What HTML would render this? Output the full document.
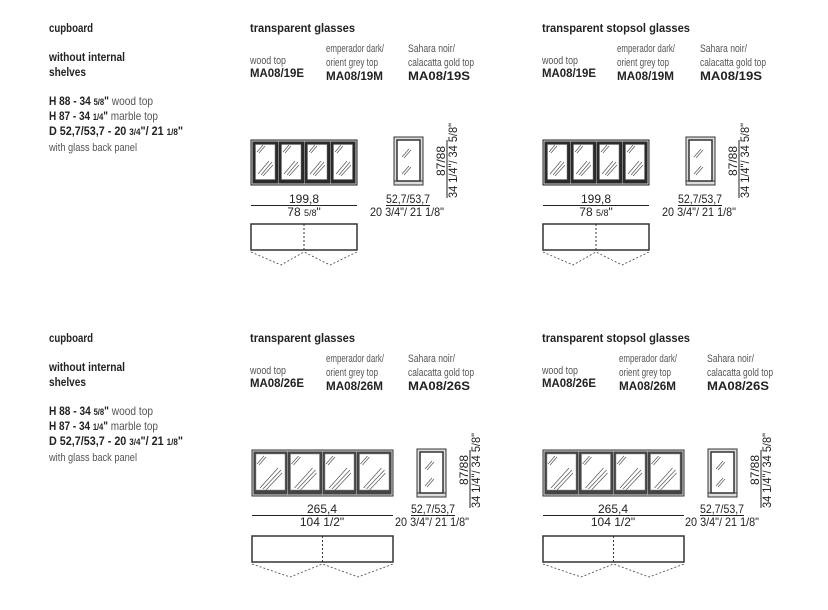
<!DOCTYPE html>
<html><head><meta charset="utf-8"><style>
html,body{margin:0;padding:0;background:#fff;}
svg{display:block}
text{font-family:"Liberation Sans Narrow","Liberation Sans",sans-serif;fill:#222}
.b{font-weight:bold;font-size:12px}
.r{font-size:11px;fill:#555}
.d{font-size:12px;fill:#222;font-family:"Liberation Sans",sans-serif}
</style></head><body>
<svg width="828" height="610" viewBox="0 0 828 610" xmlns="http://www.w3.org/2000/svg">
<defs>
<g id="hatchS">
 <path d="M4 12 L10 5 M6 13 L12 6 M5 34 L16 21 M8 35 L19 22 M10 36 L20 25" stroke="#555" stroke-width="0.7" fill="none"/>
</g>
<path id="h2" d="M5 14 L12 6 M7 15 L14 7 M8 38 L26 18 M11 39 L29 20 M14 40 L30 23" stroke="#555" stroke-width="0.7" fill="none"/>
<g id="f1">
 <rect x="0" y="0" width="106" height="45" fill="#cfcfcf" stroke="#222" stroke-width="1"/>
 <g fill="#2a2a2a">
  <rect x="1.5" y="1.5" width="25.5" height="42"/><rect x="27.5" y="1.5" width="25.5" height="42"/>
  <rect x="53.5" y="1.5" width="25.5" height="42"/><rect x="79.5" y="1.5" width="25" height="42"/>
 </g>
 <g fill="#fff" stroke="#777" stroke-width="0.5">
  <rect x="4.5" y="4.5" width="19.5" height="35"/><rect x="30.5" y="4.5" width="19.5" height="35"/>
  <rect x="56.5" y="4.5" width="19.5" height="35"/><rect x="82.5" y="4.5" width="19" height="35"/>
 </g>
 <use href="#hatchS" x="2"/><use href="#hatchS" x="28"/><use href="#hatchS" x="54"/><use href="#hatchS" x="80"/>
</g>
<g id="f2">
 <rect x="0" y="0" width="141" height="46" fill="#d5d5d5" stroke="#333" stroke-width="1"/>
 <g fill="#444">
  <rect x="1.5" y="1.5" width="34" height="43"/><rect x="36" y="1.5" width="34" height="43"/>
  <rect x="70.5" y="1.5" width="34" height="43"/><rect x="105" y="1.5" width="34.5" height="43"/>
 </g>
 <g fill="#fff" stroke="#888" stroke-width="0.5">
  <rect x="4" y="4" width="29" height="36"/><rect x="38.5" y="4" width="29" height="36"/>
  <rect x="73" y="4" width="29" height="36"/><rect x="107.5" y="4" width="29.5" height="36"/>
 </g>
 <use href="#h2" x="0"/><use href="#h2" x="34.5"/><use href="#h2" x="69"/><use href="#h2" x="103.5"/>
</g>
<g id="side">
 <rect x="0" y="0" width="29" height="48" fill="#ddd" stroke="#333" stroke-width="1"/>
 <rect x="3" y="3" width="23" height="41" fill="#fff" stroke="#333" stroke-width="1.5"/>
 <path d="M8 20 L15 12 M10 21 L17 13 M8 37 L15 29 M10 38 L17 30" stroke="#555" stroke-width="0.7"/>
 <path d="M0 44 L29 44" stroke="#333" stroke-width="1"/>
</g>
<g id="p1">
 <rect x="0" y="0" width="106" height="26" fill="#fff" stroke="#333" stroke-width="1.5"/>
 <path d="M53 0 L53 28" stroke="#333" stroke-width="1" stroke-dasharray="2,2"/>
 <path d="M0 28 L30 41 L53 28 L79 41 L106 28" stroke="#444" stroke-width="0.8" stroke-dasharray="2,2" fill="none"/>
</g>
<g id="p2">
 <rect x="0" y="0" width="141" height="26" fill="#fff" stroke="#333" stroke-width="1.5"/>
 <path d="M70.5 0 L70.5 28" stroke="#333" stroke-width="1" stroke-dasharray="2,2"/>
 <path d="M0 28 L38 41 L70.5 28 L106 41 L141 28" stroke="#444" stroke-width="0.8" stroke-dasharray="2,2" fill="none"/>
</g>
<g id="left">
<text class="b" x="49" y="32" textLength="44" lengthAdjust="spacingAndGlyphs">cupboard</text>
<text class="b" x="49" y="61" textLength="76" lengthAdjust="spacingAndGlyphs">without internal</text>
<text class="b" x="49" y="76" textLength="37" lengthAdjust="spacingAndGlyphs">shelves</text>
<text class="b" x="49" y="105" textLength="104" lengthAdjust="spacingAndGlyphs">H 88 - 34 <tspan font-size="9">5/8</tspan>" <tspan font-weight="normal" fill="#555">wood top</tspan></text>
<text class="b" x="49" y="120" textLength="109" lengthAdjust="spacingAndGlyphs">H 87 - 34 <tspan font-size="9">1/4</tspan>" <tspan font-weight="normal" fill="#555">marble top</tspan></text>
<text class="b" x="49" y="135" textLength="134" lengthAdjust="spacingAndGlyphs">D 52,7/53,7 - 20 <tspan font-size="9">3/4</tspan>"/ 21 <tspan font-size="9">1/8</tspan>"</text>
<text class="r" x="49" y="151" textLength="88" lengthAdjust="spacingAndGlyphs">with glass back panel</text>
</g>
</defs>

<use href="#left"/>
<use href="#left" y="310"/>

<!-- headers -->
<g>
<text class="b" x="250" y="32" textLength="105" lengthAdjust="spacingAndGlyphs">transparent glasses</text>
<text class="r" x="250" y="64" textLength="36" lengthAdjust="spacingAndGlyphs">wood top</text><text class="b" x="250" y="77" textLength="54" lengthAdjust="spacingAndGlyphs">MA08/19E</text>
<text class="r" x="326" y="52" textLength="58" lengthAdjust="spacingAndGlyphs">emperador dark/</text><text class="r" x="326" y="66" textLength="52" lengthAdjust="spacingAndGlyphs">orient grey top</text><text class="b" x="326" y="80" textLength="57" lengthAdjust="spacingAndGlyphs">MA08/19M</text>
<text class="r" x="408" y="52" textLength="47" lengthAdjust="spacingAndGlyphs">Sahara noir/</text><text class="r" x="408" y="66" textLength="66" lengthAdjust="spacingAndGlyphs">calacatta gold top</text><text class="b" x="408" y="80" textLength="62" lengthAdjust="spacingAndGlyphs">MA08/19S</text>

<text class="b" x="542" y="32" textLength="148" lengthAdjust="spacingAndGlyphs">transparent stopsol glasses</text>
<text class="r" x="542" y="64" textLength="36" lengthAdjust="spacingAndGlyphs">wood top</text><text class="b" x="542" y="77" textLength="54" lengthAdjust="spacingAndGlyphs">MA08/19E</text>
<text class="r" x="617" y="52" textLength="58" lengthAdjust="spacingAndGlyphs">emperador dark/</text><text class="r" x="617" y="66" textLength="52" lengthAdjust="spacingAndGlyphs">orient grey top</text><text class="b" x="617" y="80" textLength="57" lengthAdjust="spacingAndGlyphs">MA08/19M</text>
<text class="r" x="700" y="52" textLength="47" lengthAdjust="spacingAndGlyphs">Sahara noir/</text><text class="r" x="700" y="66" textLength="66" lengthAdjust="spacingAndGlyphs">calacatta gold top</text><text class="b" x="700" y="80" textLength="62" lengthAdjust="spacingAndGlyphs">MA08/19S</text>

<text class="b" x="250" y="342" textLength="105" lengthAdjust="spacingAndGlyphs">transparent glasses</text>
<text class="r" x="250" y="374" textLength="36" lengthAdjust="spacingAndGlyphs">wood top</text><text class="b" x="250" y="387" textLength="54" lengthAdjust="spacingAndGlyphs">MA08/26E</text>
<text class="r" x="326" y="362" textLength="58" lengthAdjust="spacingAndGlyphs">emperador dark/</text><text class="r" x="326" y="376" textLength="52" lengthAdjust="spacingAndGlyphs">orient grey top</text><text class="b" x="326" y="390" textLength="57" lengthAdjust="spacingAndGlyphs">MA08/26M</text>
<text class="r" x="408" y="362" textLength="47" lengthAdjust="spacingAndGlyphs">Sahara noir/</text><text class="r" x="408" y="376" textLength="66" lengthAdjust="spacingAndGlyphs">calacatta gold top</text><text class="b" x="408" y="390" textLength="62" lengthAdjust="spacingAndGlyphs">MA08/26S</text>

<text class="b" x="542" y="342" textLength="148" lengthAdjust="spacingAndGlyphs">transparent stopsol glasses</text>
<text class="r" x="542" y="374" textLength="36" lengthAdjust="spacingAndGlyphs">wood top</text><text class="b" x="542" y="387" textLength="54" lengthAdjust="spacingAndGlyphs">MA08/26E</text>
<text class="r" x="619" y="362" textLength="58" lengthAdjust="spacingAndGlyphs">emperador dark/</text><text class="r" x="619" y="376" textLength="52" lengthAdjust="spacingAndGlyphs">orient grey top</text><text class="b" x="619" y="390" textLength="57" lengthAdjust="spacingAndGlyphs">MA08/26M</text>
<text class="r" x="707" y="362" textLength="47" lengthAdjust="spacingAndGlyphs">Sahara noir/</text><text class="r" x="707" y="376" textLength="66" lengthAdjust="spacingAndGlyphs">calacatta gold top</text><text class="b" x="707" y="390" textLength="62" lengthAdjust="spacingAndGlyphs">MA08/26S</text>
</g>

<!-- block TL -->
<use href="#f1" x="251" y="140"/>
<use href="#side" x="394" y="137"/>
<text class="d" x="304" y="203" text-anchor="middle">199,8</text>
<line x1="251" y1="205.5" x2="357" y2="205.5" stroke="#222" stroke-width="1"/>
<text class="d" x="304" y="216" text-anchor="middle">78 <tspan font-size="9">5/8</tspan>"</text>
<text class="d" x="386" y="203" textLength="44" lengthAdjust="spacingAndGlyphs">52,7/53,7</text>
<line x1="386" y1="205.5" x2="430" y2="205.5" stroke="#222" stroke-width="1"/>
<text class="d" x="370" y="216" textLength="74" lengthAdjust="spacingAndGlyphs">20 3/4"/ 21 1/8"</text>
<text class="d" transform="translate(445,161) rotate(-90)" text-anchor="middle">87/88</text>
<line x1="447" y1="140" x2="447" y2="198" stroke="#222" stroke-width="1"/>
<text class="d" transform="translate(457,198) rotate(-90)" textLength="75" lengthAdjust="spacingAndGlyphs">34 1/4"/ 34 5/8"</text>
<use href="#p1" x="251" y="224"/>

<!-- block TR -->
<use href="#f1" x="543" y="140"/>
<use href="#side" x="686" y="137"/>
<text class="d" x="596" y="203" text-anchor="middle">199,8</text>
<line x1="543" y1="205.5" x2="649" y2="205.5" stroke="#222" stroke-width="1"/>
<text class="d" x="596" y="216" text-anchor="middle">78 <tspan font-size="9">5/8</tspan>"</text>
<text class="d" x="678" y="203" textLength="44" lengthAdjust="spacingAndGlyphs">52,7/53,7</text>
<line x1="678" y1="205.5" x2="722" y2="205.5" stroke="#222" stroke-width="1"/>
<text class="d" x="662" y="216" textLength="74" lengthAdjust="spacingAndGlyphs">20 3/4"/ 21 1/8"</text>
<text class="d" transform="translate(737,161) rotate(-90)" text-anchor="middle">87/88</text>
<line x1="739" y1="140" x2="739" y2="198" stroke="#222" stroke-width="1"/>
<text class="d" transform="translate(749,198) rotate(-90)" textLength="75" lengthAdjust="spacingAndGlyphs">34 1/4"/ 34 5/8"</text>
<use href="#p1" x="543" y="224"/>

<!-- block BL -->
<use href="#f2" x="252" y="450"/>
<use href="#side" x="417" y="449"/>
<text class="d" x="322" y="513" text-anchor="middle">265,4</text>
<line x1="252" y1="515.5" x2="393" y2="515.5" stroke="#222" stroke-width="1"/>
<text class="d" x="322" y="526" text-anchor="middle">104 1/2"</text>
<text class="d" x="411" y="513" textLength="44" lengthAdjust="spacingAndGlyphs">52,7/53,7</text>
<line x1="411" y1="515.5" x2="455" y2="515.5" stroke="#222" stroke-width="1"/>
<text class="d" x="395" y="526" textLength="74" lengthAdjust="spacingAndGlyphs">20 3/4"/ 21 1/8"</text>
<text class="d" transform="translate(468,470) rotate(-90)" text-anchor="middle">87/88</text>
<line x1="470" y1="450" x2="470" y2="508" stroke="#222" stroke-width="1"/>
<text class="d" transform="translate(480,508) rotate(-90)" textLength="75" lengthAdjust="spacingAndGlyphs">34 1/4"/ 34 5/8"</text>
<use href="#p2" x="252" y="536"/>

<!-- block BR -->
<use href="#f2" x="543" y="450"/>
<use href="#side" x="708" y="449"/>
<text class="d" x="613" y="513" text-anchor="middle">265,4</text>
<line x1="543" y1="515.5" x2="684" y2="515.5" stroke="#222" stroke-width="1"/>
<text class="d" x="613" y="526" text-anchor="middle">104 1/2"</text>
<text class="d" x="700" y="513" textLength="44" lengthAdjust="spacingAndGlyphs">52,7/53,7</text>
<line x1="700" y1="515.5" x2="744" y2="515.5" stroke="#222" stroke-width="1"/>
<text class="d" x="685" y="526" textLength="74" lengthAdjust="spacingAndGlyphs">20 3/4"/ 21 1/8"</text>
<text class="d" transform="translate(759,470) rotate(-90)" text-anchor="middle">87/88</text>
<line x1="761" y1="450" x2="761" y2="508" stroke="#222" stroke-width="1"/>
<text class="d" transform="translate(771,508) rotate(-90)" textLength="75" lengthAdjust="spacingAndGlyphs">34 1/4"/ 34 5/8"</text>
<use href="#p2" x="543" y="536"/>
</svg>
</body></html>
